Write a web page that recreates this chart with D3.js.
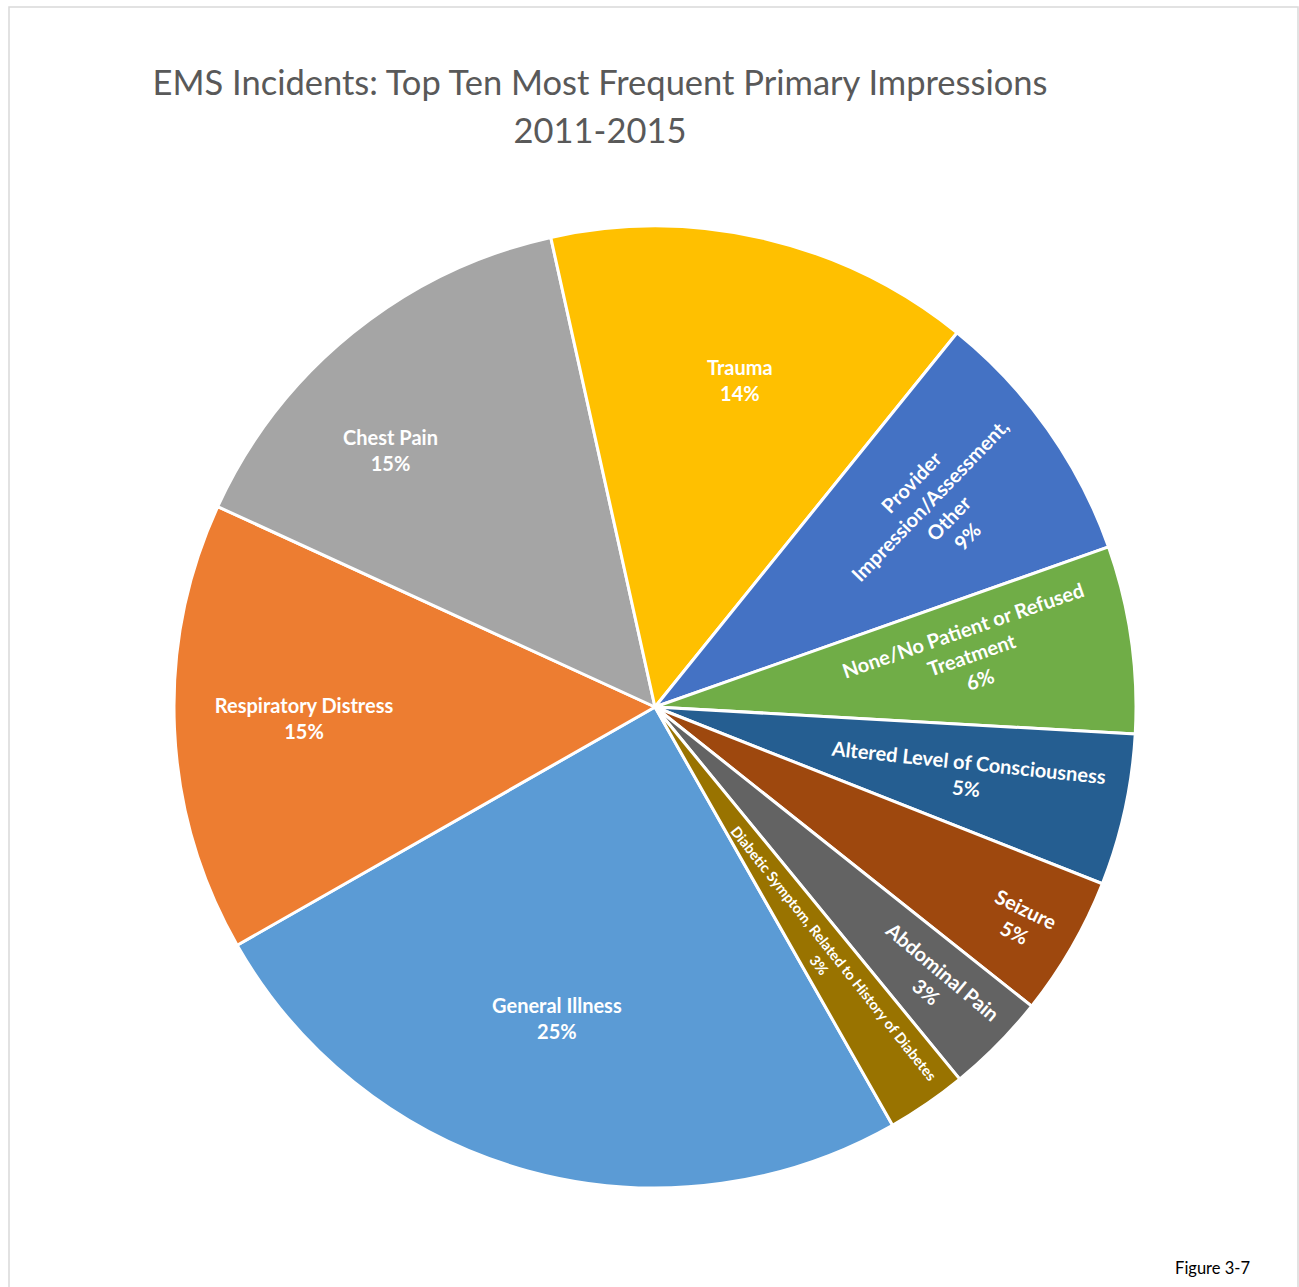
<!DOCTYPE html>
<html>
<head>
<meta charset="utf-8">
<script src="https://cdn.jsdelivr.net/npm/d3@7"></script>
<style>
  body { margin: 0; background: #fff; }
  text { font-family: Lato, "Open Sans", sans-serif; }
</style>
</head>
<body>
<svg id="chart" width="1299" height="1287"></svg>
<script>
// data, clockwise from the first slice
var categories = ['General Illness', 'Respiratory Distress', 'Chest Pain', 'Trauma',
                  'Provider Impression/Assessment, Other', 'None/No Patient or Refused Treatment',
                  'Altered Level of Consciousness', 'Seizure', 'Abdominal Pain',
                  'Diabetic Symptom, Related to History of Diabetes']
var percents = [25.0, 15.1, 14.7, 14.3, 8.8, 6.3, 5.1, 4.7, 3.4, 2.7]
var colors = ['#5B9BD5', '#ED7D31', '#A5A5A5', '#FFC000', '#4472C4', '#70AD47', '#255E91', '#9E480E', '#636363', '#997300']
var titleLines = ['EMS Incidents: Top Ten Most Frequent Primary Impressions', '2011-2015']
var figureLabel = 'Figure 3-7'

// label layout: k = distance from centre (share of radius), da = angle shift (deg),
// rot = text rotation (deg), wrap = max line width, size = font size
var labelStyle = [
    {k: 0.68, da: 2.1, rot: 0, wrap: 400, size: 20},
    {k: 0.73, da: 0.6, rot: 0, wrap: 400, size: 20},
    {k: 0.765, da: -7, rot: 0, wrap: 400, size: 20},
    {k: 0.70, da: 1.4, rot: 0, wrap: 400, size: 20},
    {k: 0.72, da: 0.5, rot: -46, wrap: 240, size: 20},
    {k: 0.667, da: -1.2, rot: -19, wrap: 280, size: 20},
    {k: 0.665, da: 0, rot: 6, wrap: 400, size: 20},
    {k: 0.88, da: 0.4, rot: 26, wrap: 400, size: 20},
    {k: 0.815, da: 0, rot: 40, wrap: 400, size: 20},
    {k: 0.634, da: 0.3, rot: 51.5, wrap: 500, size: 14.5}
]

var width = 1299, height = 1287
var cx = 655, cy = 707, radius = 481
var startDeg = 150.4

var svg = d3.select('#chart')

// frame
svg.append('rect')
    .attr('x', 9).attr('y', 7)
    .attr('width', 1289).attr('height', 1300)
    .attr('fill', 'none')
    .attr('stroke', '#d9d9d9')
    .attr('stroke-width', 1.5)

// title
svg.append('g').selectAll('text')
    .data(titleLines)
    .enter()
    .append('text')
    .attr('x', 600)
    .attr('y', function(d, i) { return 95 + i * 48 })
    .attr('text-anchor', 'middle')
    .attr('fill', '#595959')
    .style('font-size', '34.5px')
    .text(function(d) { return d })

svg.append('text')
    .attr('x', 1250).attr('y', 1274)
    .attr('text-anchor', 'end')
    .attr('fill', '#000')
    .style('font-size', '16.5px')
    .text(figureLabel)

var total = d3.sum(percents)
var rad = Math.PI / 180

var pie = d3.pie()
    .sort(null)
    .value(function(d) { return d })
    .startAngle(startDeg * rad)
    .endAngle(startDeg * rad + 2 * Math.PI)

var arc = d3.arc().innerRadius(0).outerRadius(radius)

var arcs = pie(percents)

var g = svg.append('g').attr('transform', 'translate(' + cx + ',' + cy + ')')

g.selectAll('path')
    .data(arcs)
    .enter()
    .append('path')
    .attr('d', arc)
    .attr('fill', function(d, i) { return colors[i] })
    .attr('stroke', '#fff')
    .attr('stroke-width', 3)
    .attr('stroke-linejoin', 'round')

// measure helper for wrapping
var measure = svg.append('text').style('font-weight', 'bold').attr('visibility', 'hidden')
function wrapText(str, maxW, size) {
    measure.style('font-size', size + 'px')
    var words = str.split(' '), lines = [], cur = ''
    words.forEach(function(w) {
        var test = cur ? cur + ' ' + w : w
        measure.text(test)
        if (cur && measure.node().getComputedTextLength() > maxW) {
            lines.push(cur)
            cur = w
        } else {
            cur = test
        }
    })
    if (cur) lines.push(cur)
    return lines
}

var labels = g.selectAll('.lbl')
    .data(arcs)
    .enter()
    .append('g')
    .attr('class', 'lbl')
    .attr('transform', function(d, i) {
        var s = labelStyle[i]
        var a = (d.startAngle + d.endAngle) / 2 + s.da * rad
        var p = d3.pointRadial(a, radius * s.k)
        return 'translate(' + p[0] + ',' + p[1] + ') rotate(' + s.rot + ')'
    })

labels.each(function(d, i) {
    var s = labelStyle[i]
    var lines = wrapText(categories[i], s.wrap, s.size)
    lines.push(Math.round(d.value / total * 100) + '%')
    var lh = s.size * 1.3
    d3.select(this).selectAll('text')
        .data(lines)
        .enter()
        .append('text')
        .attr('text-anchor', 'middle')
        .attr('y', function(t, j) { return (j - (lines.length - 1) / 2) * lh })
        .attr('dy', '0.36em')
        .attr('fill', '#fff')
        .style('font-weight', 'bold')
        .style('font-size', s.size + 'px')
        .text(function(t) { return t })
})
measure.remove()
</script>
</body>
</html>
